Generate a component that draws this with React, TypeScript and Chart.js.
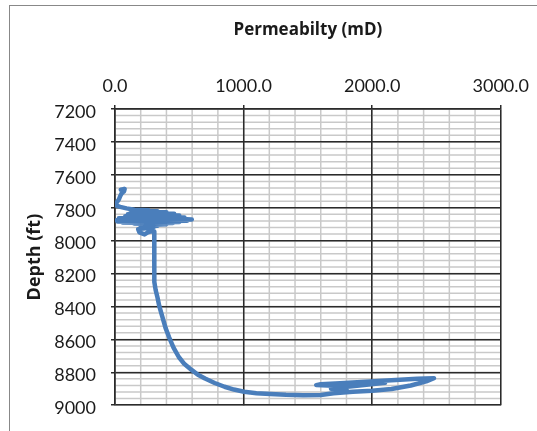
import React, { useEffect, useRef } from "react";
import { Chart, registerables } from "chart.js";

Chart.register(...registerables);

// Permeability (mD) along the trace, in drawing order
const perm = [
  45, 75, 70, 50, 40, 30, 12, 5, 40, 90, 152, 260, 200, 330, 150, 400, 120, 460, 100, 300,
  500, 80, 420, 540, 30, 480, 597, 13, 560, 20, 500, 60, 450, 150, 400, 250, 330, 200, 300,
  180, 190, 230, 255, 290, 305, 305, 305, 305, 308, 316, 330, 345, 369, 393, 420, 455, 496,
  540, 598, 645, 700, 775, 852, 925, 1005, 1100, 1208, 1330, 1463, 1600, 1700, 1850, 2000,
  2150, 2300, 2420, 2480, 2350, 2150, 1950, 1750, 1600, 1565, 1700, 1900, 2100, 1900, 1750,
  1680, 1800, 1750,
];
// Depth (ft) for each permeability value
const depth = [
  7690, 7686, 7700, 7715, 7730, 7750, 7770, 7785, 7795, 7804, 7812, 7815, 7818, 7821, 7824,
  7828, 7832, 7836, 7840, 7843, 7847, 7851, 7855, 7860, 7864, 7867, 7872, 7876, 7879, 7883,
  7886, 7889, 7893, 7896, 7900, 7905, 7910, 7915, 7920, 7930, 7950, 7962, 7950, 7940, 7945,
  7980, 8100, 8206, 8250, 8300, 8344, 8400, 8465, 8530, 8586, 8650, 8707, 8750, 8787, 8815,
  8838, 8865, 8888, 8905, 8918, 8927, 8932, 8937, 8940, 8938, 8928, 8918, 8912, 8902, 8880,
  8855, 8836, 8840, 8848, 8858, 8866, 8872, 8878, 8882, 8872, 8864, 8880, 8892, 8900, 8906,
  8915,
];

const xTicks = [0, 1000, 2000, 3000];
const yTicks = [7200, 7400, 7600, 7800, 8000, 8200, 8400, 8600, 8800, 9000];
const xMinorStep = 200;
const yMinorStep = 40;

const minorGrid = {
  id: "minorGrid",
  beforeDraw(chart: any) {
    const { ctx, chartArea, scales } = chart;
    const xs = scales.x;
    const ys = scales.y;
    ctx.save();
    ctx.strokeStyle = "#c9c9c9";
    ctx.lineWidth = 1.5;
    ctx.beginPath();
    for (let v = xs.min; v <= xs.max; v += xMinorStep) {
      const px = xs.getPixelForValue(v);
      ctx.moveTo(px, chartArea.top);
      ctx.lineTo(px, chartArea.bottom);
    }
    for (let d = ys.min; d <= ys.max; d += yMinorStep) {
      const py = ys.getPixelForValue(d);
      ctx.moveTo(chartArea.left, py);
      ctx.lineTo(chartArea.right, py);
    }
    ctx.stroke();
    ctx.restore();
  },
};

export default function App() {
  const ref = useRef<HTMLCanvasElement | null>(null);

  useEffect(() => {
    if (!ref.current) return;
    Chart.defaults.font.family = "Lato";
    const chart = new Chart(ref.current, {
      type: "scatter",
      data: {
        datasets: [
          {
            data: perm.map((p, i) => ({ x: p, y: depth[i] })),
            showLine: true,
            borderColor: "#4A7EBB",
            backgroundColor: "#4A7EBB",
            borderWidth: 4.5,
            borderJoinStyle: "round",
            borderCapStyle: "round",
            pointRadius: 0,
            tension: 0,
          },
        ],
      },
      options: {
        animation: false,
        responsive: false,
        layout: { padding: { top: 0, left: 0, right: 29, bottom: 22 } },
        plugins: { legend: { display: false }, tooltip: { enabled: false } },
        scales: {
          x: {
            type: "linear",
            position: "top",
            min: 0,
            max: 3000,
            afterBuildTicks: (s: any) => {
              s.ticks = xTicks.map((v) => ({ value: v }));
            },
            afterFit: (s: any) => {
              s.height = 109;
            },
            ticks: {
              callback: (v: any) => Number(v).toFixed(1),
              color: "#1a1a1a",
              font: { size: 18 },
              padding: 8,
              maxRotation: 0,
              autoSkip: false,
            },
            grid: { color: "#2b2b2b", lineWidth: 1.5, tickLength: 4 },
            border: { color: "#2b2b2b", width: 1.5 },
            title: {
              display: true,
              text: "Permeabilty (mD)",
              color: "#1a1a1a",
              font: { family: "Open Sans", size: 17, weight: "bold" },
              padding: { top: 20, bottom: 0 },
            },
          },
          y: {
            type: "linear",
            position: "left",
            reverse: true,
            min: 7200,
            max: 9000,
            afterBuildTicks: (s: any) => {
              s.ticks = yTicks.map((v) => ({ value: v }));
            },
            afterFit: (s: any) => {
              s.width = 115;
            },
            ticks: {
              callback: (v: any) => String(v),
              color: "#1a1a1a",
              font: { size: 18 },
              padding: 15,
              labelOffset: 3,
              autoSkip: false,
            },
            grid: { color: "#2b2b2b", lineWidth: 1.5, tickLength: 4 },
            border: { color: "#2b2b2b", width: 1.5 },
            title: {
              display: true,
              text: "Depth (ft)",
              color: "#1a1a1a",
              font: { family: "Open Sans", size: 18, weight: "bold" },
              padding: { top: 24, bottom: 0 },
            },
          },
        },
      },
      plugins: [minorGrid],
    });
    return () => chart.destroy();
  }, []);

  return (
    <div
      style={{
        position: "absolute",
        left: 0,
        top: 0,
        width: 537,
        height: 431,
        overflow: "hidden",
        background: "#ffffff",
      }}
    >
      <div
        style={{
          position: "absolute",
          left: 9,
          top: 5,
          width: 600,
          height: 600,
          border: "1px solid #888888",
        }}
      />
      <canvas
        ref={ref}
        width={537}
        height={431}
        style={{ position: "absolute", left: 0, top: 0 }}
      />
    </div>
  );
}
